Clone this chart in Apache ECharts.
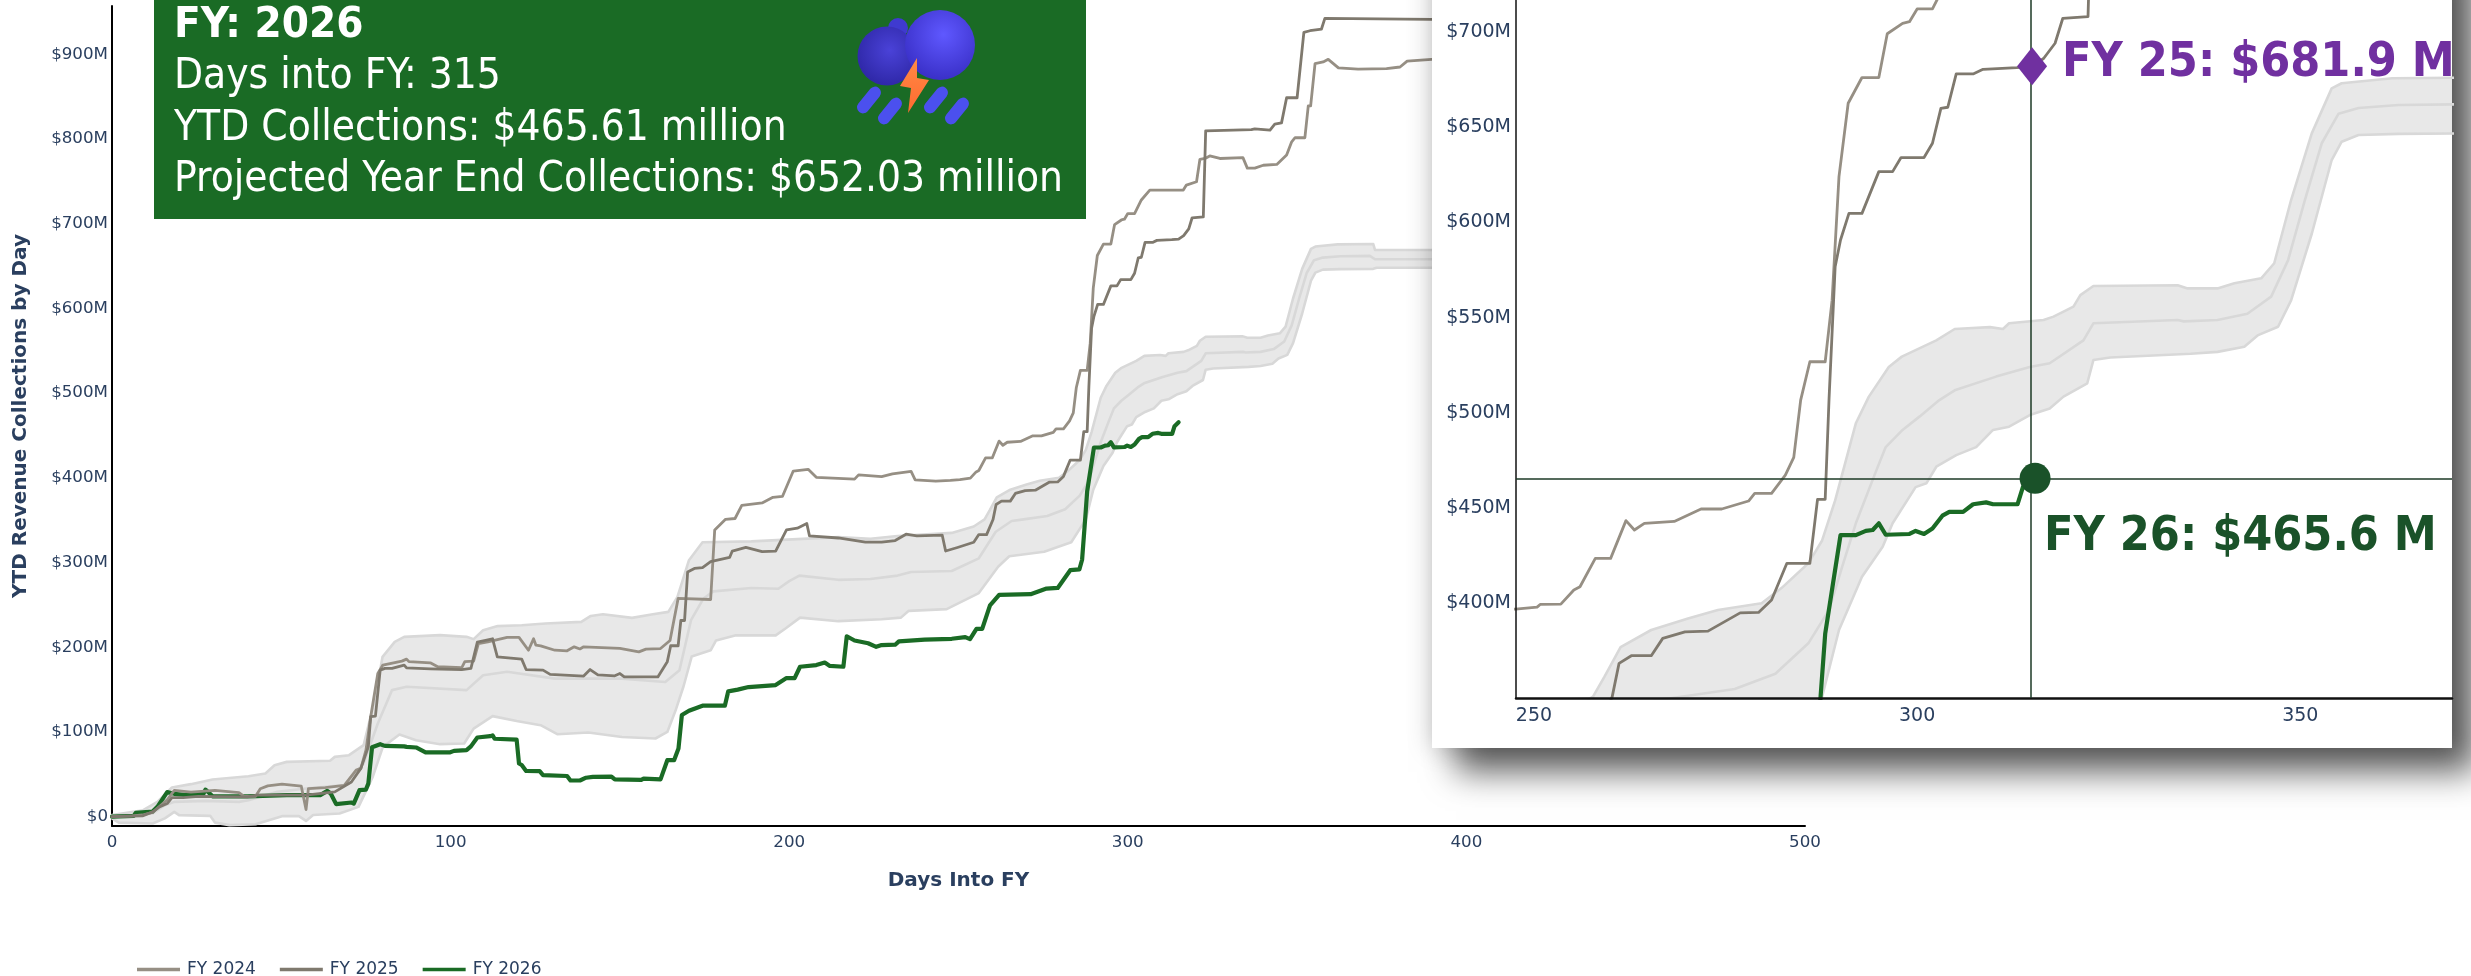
<!DOCTYPE html>
<html><head><meta charset="utf-8">
<style>html,body{margin:0;padding:0;background:#fff;overflow:hidden}#c{width:2471px;height:976px}</style>
<script src="https://cdn.jsdelivr.net/npm/echarts@6/dist/echarts.min.js"></script>
</head><body><div id="c"></div>
<script>
const fy2024=[[0,0],[6,1],[9,2],[12,5],[14,12],[16.3,20],[18.4,31],[23.3,29],[30.4,31],[37.5,28.5],[39,24],[42.4,24],[43.8,33],[46,36.4],[50.2,38.4],[55.9,36],[57.3,8.4],[58,33],[63,34.4],[68.6,37],[72.1,55],[73.5,57],[75,78.5],[76.4,118],[78.5,169],[80,179],[85.6,183.6],[87,186],[87.7,183],[94,181.6],[96.2,177],[103.3,176],[104.2,183],[106.8,183.6],[108.2,204.4],[111,206.4],[116.7,211.6],[120.2,211.6],[123,196.5],[124.5,210],[125.2,202.4],[126.6,201.7],[130.8,196.5],[134.4,195.8],[136.5,200.5],[138.2,198],[139.3,200.5],[150,198.6],[155.6,194.6],[157.7,197.8],[162,198.5],[164.8,208],[167.2,257.7],[176.8,256.4],[178,338.5],[181.2,351],[184,352],[186,367.5],[192,370.4],[195.2,377],[198,378],[201.2,408],[205.6,410],[208,400.6],[219.3,398.5],[220.5,403.5],[227.3,401.4],[230.5,404.7],[236,407.6],[237.2,397.7],[243.3,396],[247.6,397],[250.4,398],[250.8,399.4],[253.5,399.6],[255.2,407],[256,408.7],[258,423.6],[260,423.6],[262,443.4],[263.1,438.5],[264.4,442],[268.3,443],[271.8,449.5],[274.5,449.5],[278,453.7],[278.8,457.7],[281,457.7],[282.8,467.3],[283.9,476.6],[284.8,506.7],[286,526.8],[288,526.8],[288.9,559],[289.8,624],[291,662.5],[292.8,676],[295,676],[296.1,699],[298.1,704.4],[299,705.3],[300,712],[302,712],[304,728],[306.5,739.7],[316.4,739.7],[317.3,745.6],[320.3,749.5],[321.3,776],[322.8,777],[324.2,780],[327.2,777],[334,778],[335.3,765.6],[337.5,765.6],[340,769],[344,770],[346.9,781],[348.4,796.7],[349.4,801.5],[352.3,801.5],[353.3,839],[354,839],[355.3,889],[357.7,891],[359.2,894],[360.7,889],[362.2,884],[368,882.5],[376.4,883],[380.4,885],[382.5,892],[389.7,894],[400,894]];
const fy2025=[[0,0],[9,1],[12,5.7],[14,11.6],[16.3,15.5],[17.7,22.6],[21,22.6],[25.5,24],[40,23.4],[43,25.4],[57.3,25.4],[65.8,29.3],[70.7,41],[73.5,57],[75.7,82.4],[76.4,118],[77.8,118.7],[79.2,173],[80.6,175],[82.7,175],[86.3,179],[87,175.7],[94,174.5],[103.3,173.7],[106,175],[107.9,206],[112.4,210],[113.8,188.7],[121,186],[122.3,173.7],[127.3,173],[129.4,168],[139.3,166],[141.2,173.7],[143.5,167.5],[148.5,166.3],[150,169],[151.3,165],[161.2,165],[164,183],[165,201.8],[167.2,201.8],[168,231.6],[169.1,231.6],[170,288.8],[172,293],[174.4,294],[176.8,301],[182.4,306],[183.2,313.6],[187.2,317.8],[192,312.8],[196,313.6],[199.2,338.5],[202.4,340.5],[205.2,346],[206,331.4],[214.5,329],[222.5,324],[227.3,324],[231.3,326],[234.5,333.5],[237.7,331.4],[245.2,332.3],[246.2,313.6],[249.7,317.8],[254.5,324],[256,333],[258.3,333],[260.2,350.9],[261.1,368.5],[262.7,372.5],[265.3,372.5],[266.8,381.6],[269.7,385],[272.7,385.4],[276.9,395],[279.3,395.2],[281,401.7],[283,421],[286,421],[287,454.6],[288,454.6],[288.5,507],[289.3,576.7],[290,590.7],[291.1,604.7],[292.8,604.7],[295,626.6],[296.8,626.6],[297.9,634],[300.9,634],[302,641.5],[303.1,659.8],[304,660.4],[305.1,677.9],[307.3,677.9],[308.6,680.3],[313,681.2],[315,681.9],[316.5,686],[318,694],[319,707],[322.3,708],[323,809.7],[336.5,811],[337.5,812],[342,810.5],[343.4,817.6],[345.4,819],[346.9,848.7],[350,848.7],[352,925.8],[353.8,927.8],[357.2,929.8],[358.2,942.4],[389.7,941.2],[400,941]];
const fy2026=[[0,0],[6.4,1],[7,4.5],[12,6],[13.4,11.6],[16.3,29],[18.4,27],[22,25.5],[27,27],[27.6,32],[29.7,24],[40,24],[51.6,25.5],[61.5,25.5],[63.6,30.5],[64.6,27.4],[66.2,14.8],[70.7,16.7],[71.4,15.5],[73.1,31.3],[75,32],[75.7,39],[76.8,82],[79.2,85.6],[80.6,83.6],[86.3,83],[87,82.4],[89.8,81.7],[92.6,76],[99.7,75.8],[101,77.7],[104.7,78.5],[106,83],[107.9,93.5],[111.7,95],[112.4,96],[113,92],[119.5,91],[120.2,62.8],[121,61],[122.3,54],[126.3,53.7],[127.3,49],[134.4,48],[135.4,42.7],[138.2,42.7],[140,46],[142,47],[147.5,47.4],[148.5,44],[156.3,43.5],[157,45],[162,44],[164,66.7],[166,66.7],[167.3,80.5],[168.3,120],[170.4,125],[174.4,131],[181,131],[182,148],[184.8,150],[188,153],[196,155.4],[199.2,163.6],[201.6,163.6],[203.2,177],[208,179],[210.5,182],[212,178],[216,177],[217,213],[219.3,208],[223.3,204.7],[225.7,200.5],[227.3,202.6],[231.3,203],[232.4,207],[240,209],[248,210],[252,212],[253.4,209.6],[255.3,221.7],[257,221.7],[259.3,249.4],[260.4,254.4],[262,261.8],[271.3,262.7],[276,269.3],[279.3,270],[283,291],[285.7,292],[286.5,303.3],[287.4,351],[288,384],[290,435.8],[292,435.8],[293.3,438],[294.2,438.5],[295,442],[295.9,436],[299,436.4],[299.8,438],[300.9,436.4],[302,439.3],[303.3,446],[304.2,448],[306,448],[307.3,452],[309,453],[309.9,452],[313.1,452],[313.8,461],[315,465.6]];
const bandUpper=[[0,1.8],[9.2,7.7],[13.4,17.5],[17.7,34.4],[23.3,38.4],[29.7,43.9],[40.3,47.8],[45.3,51],[48,60.8],[51.6,64.7],[64.4,66],[65.8,70.6],[70,72.6],[74.3,84.4],[77.8,141.5],[79.9,188.7],[83.5,206.4],[86.3,212.3],[96.9,214.3],[104.7,212.3],[106.8,209.6],[109.6,220],[113.9,225],[121,226],[128,228],[138.6,230],[141.4,237],[145,239],[153.6,234.7],[159.3,238.7],[164.3,241.8],[167,259.5],[170.4,302.8],[174.4,324],[188.8,325],[204,328],[214.5,330],[224,328],[232,331.4],[248,335],[254.5,342.6],[257.7,351],[259.2,361.5],[261.3,377],[265.3,386],[270.1,392],[274,396.5],[279.7,400],[282.3,408],[285.8,421],[287.6,433],[289.3,454],[292,494.5],[293.7,508.5],[296.3,524],[298,529.5],[302.5,538],[304.9,544],[309.5,545],[311.2,544],[312,547],[316.5,548.7],[317.8,550.5],[320.4,555.7],[321.3,561.8],[323,566.6],[334,567],[335.3,565.3],[339.2,565.3],[341.4,568],[344.9,570.6],[346.6,578.5],[348.8,611.7],[351.5,646.7],[354.1,670.3],[355.4,673],[362,675.6],[372.5,676],[373,669],[400,669]];
const bandMean=[[0,0],[12,3.7],[15.6,13.6],[18.4,17.5],[27.6,18.7],[37.5,17.5],[40.3,19.5],[48.8,29.3],[57.3,33.2],[68.6,37.2],[74.3,62.8],[78.5,110],[82.7,149.4],[87,153.3],[104.7,149.4],[109.6,167],[116.7,171],[130.8,163],[150.6,163],[163.4,159],[167.6,173],[171,232],[174.7,257.6],[177.6,266],[188.8,270],[196.8,269],[200,278],[203,284.6],[214.5,279.6],[224,280.5],[232,284.6],[236,288.8],[248,290],[256,305],[261,336.4],[265.7,349],[269.2,351],[276.2,355],[281.5,363],[285.8,379],[288.5,396.5],[290.2,419],[292,442],[294.6,469],[295.9,482],[298.1,491],[300.3,498],[302.9,506.7],[305,512],[310.3,519],[314.7,524],[317.3,526],[321.7,538],[323,547],[334,548.7],[334.8,548],[339.2,548.7],[343.1,552],[346.2,561],[348.4,580],[350.6,611.7],[352.8,641.5],[355,657],[357.6,660],[362.8,661.6],[371.5,662],[373,658],[400,658]];
const bandLower=[[0,-2],[2,-7],[12,-8],[15.6,-2],[18.4,5.7],[19.8,1.8],[29,1],[30.4,-7],[34.7,-10],[42.4,-9],[50.2,0.6],[55.2,0.6],[57.3,-5],[59.4,2],[67.2,3.7],[72.8,11.6],[77,47],[80,82.4],[84.9,97],[89.8,90.3],[96.9,85.6],[104,86.4],[106.8,104],[112.4,118.7],[119.5,113],[126.6,108],[131.5,97.4],[140.7,99.4],[150.6,94],[160.5,92.3],[164,100],[166.4,125],[168.8,154],[171.2,189],[176.8,196.4],[178.4,208],[184,214],[196,214],[199,222.5],[203.2,235],[214.5,230.8],[227.3,233],[233,235],[235.3,243],[246.5,245],[256,264],[261.7,295],[265,307.4],[275.3,312.8],[283.3,324],[287.6,351],[289.8,386],[292.8,414],[295.5,429.7],[296.8,442],[299.8,461],[301.2,463],[302.5,471.7],[305.1,477.8],[307.7,482],[309.9,491],[312,492.7],[314.7,498.8],[317.3,502.3],[319.1,508.5],[322.2,515.5],[323,527.7],[325.2,529],[335.7,531],[339.2,532],[342.7,534.7],[344.5,540.8],[347.1,545.2],[348.8,559],[351.5,594],[354.1,632.7],[355.4,642.3],[357.6,645.8],[362.8,646.4],[372.5,646.7],[373.5,648],[400,648]];
const mainYTicks=[0,100,200,300,400,500,600,700,800,900];
const insetYTicks=[400,450,500,550,600,650,700];
const insetXTicks=[250,300,350];
const legendNames=['FY 2024','FY 2025','FY 2026'];
const infoTitle='FY: 2026';
const infoLines=['Days into FY: 315','YTD Collections: $465.61 million','Projected Year End Collections: $652.03 million'];
const marker25=[315,681.9], marker26=[315,465.6];
const label25='FY 25: $681.9 M', label26='FY 26: $465.6 M';

const TXT='#2a3f5f', C24='#968f84', C25='#7f796e', C26='#1a6b25', CB='#d8d8d8', FILL='#e8e8e8';
const COND='"DejaVu Sans Condensed","DejaVu Sans",sans-serif';
function money(v){return v===0?'$0':'$'+v+'M';}
function axisCommon(z){return {z:z,splitLine:{show:false},axisTick:{show:false}};}
function seriesFor(idx,z){
  const ln=(name,data,color,w,zz)=>({type:'line',name,data,xAxisIndex:idx,yAxisIndex:idx,symbol:'none',silent:true,z:zz,
    lineStyle:{color,width:w,cap:'round',join:'round'},itemStyle:{color},animation:false});
  return [
   {type:'custom',name:'band'+idx,xAxisIndex:idx,yAxisIndex:idx,silent:true,z:z,animation:false,clip:true,data:[[0,0]],
    renderItem:function(p,api){
      const pts=bandUpper.map(d=>api.coord(d)).concat(bandLower.slice().reverse().map(d=>api.coord(d)));
      return {type:'polygon',shape:{points:echarts.graphic.clipPointsByRect(pts,{x:p.coordSys.x,y:p.coordSys.y,width:p.coordSys.width,height:p.coordSys.height})},style:{fill:FILL}};
    }},
   ln('U'+idx,bandUpper,CB,2.6,z+1),ln('M'+idx,bandMean,CB,2.6,z+1),ln('L'+idx,bandLower,CB,2.6,z+1),
   ln(legendNames[0],fy2024,C24,2.8,z+3),ln(legendNames[1],fy2025,C25,2.8,z+4),ln(legendNames[2],fy2026,C26,4.2,z+2)
  ];
}
const ch=echarts.init(document.getElementById('c'),null,{renderer:'canvas'});
const insetSeries=seriesFor(1,20);
insetSeries[6].markLine={silent:true,symbol:'none',animation:false,z:27,label:{show:false},lineStyle:{color:'#1c3a26',width:1.5,type:'solid'},
  data:[{xAxis:314.8},{yAxis:marker26[1]}]};
insetSeries.push({type:'scatter',xAxisIndex:1,yAxisIndex:1,z:28,silent:true,animation:false,symbol:'diamond',symbolSize:[30,38],
  itemStyle:{color:'#7030a0',opacity:1},data:[marker25]});
insetSeries.push({type:'scatter',xAxisIndex:1,yAxisIndex:1,z:28,silent:true,animation:false,symbol:'circle',symbolSize:31,symbolOffset:[3,0],
  itemStyle:{color:'#1a5229',opacity:1},data:[marker26]});

const drop=(x,y)=>({type:'rect',z:33,x:x,y:y,rotation:-0.68,shape:{x:-6,y:-15.5,width:12,height:31,r:6},style:{fill:'#4b50ee'}});
const grad=(cx,cy,r,a,b)=>new echarts.graphic.RadialGradient(cx,cy,r,[{offset:0,color:a},{offset:1,color:b}]);
const graphics=[
 {type:'rect',z:9,shape:{x:1432,y:-60,width:1020,height:808},style:{fill:'#fff',shadowBlur:24,shadowColor:'rgba(0,0,0,0.22)'}},
 {type:'rect',z:10,shape:{x:1432,y:-60,width:1020,height:808},style:{fill:'#fff',shadowBlur:32,shadowOffsetX:24,shadowOffsetY:24,shadowColor:'rgba(0,0,0,0.62)'}},
 {type:'rect',z:30,shape:{x:154,y:-2,width:932,height:221},style:{fill:C26}},
 {type:'text',z:31,x:174,y:26,style:{text:infoTitle,fill:'#fff',font:'bold 43.5px '+COND,textVerticalAlign:'middle'}},
 {type:'text',z:31,x:174,y:77,style:{text:infoLines[0],fill:'#fff',font:'42px '+COND,textVerticalAlign:'middle'}},
 {type:'text',z:31,x:174,y:129,style:{text:infoLines[1],fill:'#fff',font:'42px '+COND,textVerticalAlign:'middle'}},
 {type:'text',z:31,x:174,y:180,style:{text:infoLines[2],fill:'#fff',font:'42px '+COND,textVerticalAlign:'middle'}},
 {type:'circle',z:32,shape:{cx:898,cy:28,r:10},style:{fill:'#3f3ad0'}},
 {type:'circle',z:32,shape:{cx:887,cy:56,r:29.5},style:{fill:grad(0.55,0.4,0.6,'#4a42d8','#2f28a8')}},
 {type:'circle',z:33,shape:{cx:940,cy:45,r:35},style:{fill:grad(0.55,0.35,0.65,'#5f58ff','#3a30c8')}},
 drop(869,100),drop(890,111),drop(936,100),drop(957,111),
 {type:'polygon',z:34,shape:{points:[[917,58],[900,86],[911,88],[908,113],[929,80],[917,78]]},style:{fill:new echarts.graphic.LinearGradient(0,0,0,1,[{offset:0,color:'#ff8a45'},{offset:1,color:'#ff6a30'}])}},
 {type:'text',z:35,x:2062,y:64,style:{text:label25,fill:'#7030a0',font:'bold 48px '+COND,textVerticalAlign:'middle'}},
 {type:'text',z:35,x:2044,y:538,style:{text:label26,fill:'#1a5229',font:'bold 48px '+COND,textVerticalAlign:'middle'}}
];
ch.setOption({
 animation:false,backgroundColor:'#fff',
 textStyle:{fontFamily:'"DejaVu Sans",sans-serif'},
 grid:[{left:112,top:6,width:1693,height:820},{left:1516,top:0,width:936,height:698}],
 xAxis:[
  Object.assign(axisCommon(1),{type:'value',gridIndex:0,min:0,max:500,interval:100,axisLine:{onZero:false,lineStyle:{color:'#000',width:2}},
    axisLabel:{color:TXT,fontSize:16.7,margin:8},name:'Days Into FY',nameLocation:'middle',nameGap:45,nameTextStyle:{color:TXT,fontSize:20,fontWeight:'bold'}}),
  Object.assign(axisCommon(25),{type:'value',gridIndex:1,min:247.65,max:369.8,axisLine:{onZero:false,lineStyle:{color:'#111',width:2.5}},
    axisLabel:{color:TXT,fontSize:19,margin:9,customValues:insetXTicks}})
 ],
 yAxis:[
  Object.assign(axisCommon(1),{type:'value',gridIndex:0,min:-11,max:957,axisLine:{show:true,onZero:false,lineStyle:{color:'#000',width:2}},
    axisLabel:{color:TXT,fontSize:16.7,margin:4,customValues:mainYTicks,formatter:money},
    name:'YTD Revenue Collections by Day',nameLocation:'middle',nameGap:81,nameTextStyle:{color:TXT,fontSize:20,fontWeight:'bold'}}),
  Object.assign(axisCommon(25),{type:'value',gridIndex:1,min:350.3,max:716.7,axisLine:{show:true,onZero:false,lineStyle:{color:'#111',width:1.5}},
    axisLabel:{color:TXT,fontSize:19,margin:5,customValues:insetYTicks,formatter:money}})
 ],
 legend:{data:legendNames.map(n=>({name:n,icon:'rect'})),left:137,top:961,padding:0,itemWidth:43,itemHeight:3.5,itemGap:24,selectedMode:false,
   textStyle:{color:TXT,fontSize:17,padding:[0,0,0,2]}},
 series:seriesFor(0,2).concat(insetSeries),
 graphic:{elements:graphics}
});
</script></body></html>
